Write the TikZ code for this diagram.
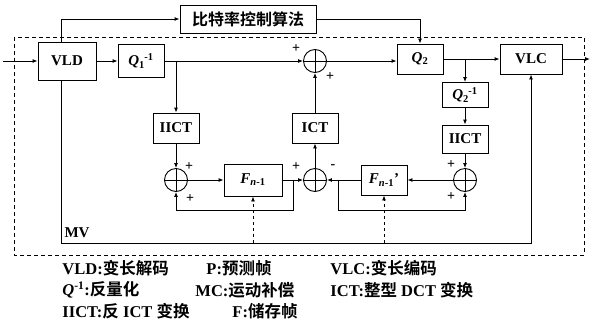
\documentclass[tikz,border=0pt]{standalone}
\usepackage{fontspec}
\setmainfont{Liberation Serif}
\newfontfamily\cjk[BoldFont={Noto Sans CJK SC Bold}]{Noto Sans CJK SC}
\usetikzlibrary{positioning,arrows.meta,calc}
\newcommand{\zhtext}[1]{{\cjk #1}}
\newcommand{\qname}[2]{\textit{Q}\textsubscript{#1}\kern-0.5pt\textsuperscript{#2}}
\newcommand{\fname}{\textit{F}\textsubscript{\textit{n}-1}}

\begin{document}
\begin{tikzpicture}[x=1pt, y=-1pt,
    font=\bfseries\fontsize{15}{17}\selectfont,
    line width=0.9pt,
    >={Latex[length=5pt,width=4pt]},
    box/.style={draw, minimum height=30pt, minimum width=46pt, inner sep=2pt, align=center},
    sum/.style={draw, circle, minimum size=23pt, inner sep=0pt,
      path picture={\draw (path picture bounding box.north) -- (path picture bounding box.south)
                          (path picture bounding box.west) -- (path picture bounding box.east);}},
    sign/.style={inner sep=0pt, font=\bfseries\fontsize{14}{14}\selectfont},
    legend/.style={anchor=west, inner sep=0pt, font=\bfseries\fontsize{16.5}{18}\selectfont},
  ]
  \useasboundingbox (0,0) rectangle (593,327);

  % top row
  \node[box, minimum width=58pt, minimum height=38pt] (vld) at (67,61) {VLD};
  \node[box, minimum height=33pt] (q1) at (141,61) {\qname{1}{-1}};
  \node[sum] (s1) at (315,61) {};
  \node[box] (q2) at (420,59) {\textit{Q}\textsubscript{2}};
  \node[box, minimum width=62pt] (vlc) at (531,59) {VLC};
  \node[box, minimum width=136pt, minimum height=28pt,
        font=\bfseries\fontsize{16}{18}\selectfont] (rate) at (248,19) {\zhtext{比特率控制算法}};

  % middle
  \node[box] (iict1) at (176,128) {IICT};
  \node[box] (ict) at (315,128) {ICT};
  \node[box, minimum height=25pt] (q2inv) at (465,95) {\qname{2}{-1}};
  \node[box, minimum height=28pt] (iict2) at (465,139) {IICT};

  % bottom row
  \node[sum] (s2) at (176,180) {};
  \node[sum] (s3) at (315,180) {};
  \node[sum] (s4) at (465,180) {};
  \node[box, minimum width=58pt, minimum height=32pt] (fn) at (253,180) {\fname};
  \node[box, minimum height=30pt] (fnp) at (384,180) {\fname'};

  \coordinate (in) at (3,61);
  \coordinate (out) at (590,59);
  \coordinate (j1) at (293,180);
  \coordinate (j2) at (338,180);
  \coordinate (mv) at (61,243);

  \draw[->] (in) -- (vld);
  \draw[->] (vld) -- (q1);
  \draw[->] (q1) -- (s1);
  \draw[->] (iict1 |- q1) -- (iict1);
  \draw[->] (iict1) -- (s2);
  \draw[->] (s2) -- (fn);
  \draw[->] (fn) -- (s3);
  \draw[->] (j1) -- ++(0,30) -| (s2);
  \draw[->] (s3) -- (ict);
  \draw[->] (ict) -- (s1);
  \draw[->] (s1.east) -- (s1.east -| q2.west);
  \draw[->] (q2) -- (vlc);
  \draw[->] (q2inv |- q2) -- (q2inv);
  \draw[->] (q2inv) -- (iict2);
  \draw[->] (iict2) -- (s4);
  \draw[->] (s4) -- (fnp);
  \draw[->] (fnp) -- (s3);
  \draw[->] (j2) -- ++(0,30) -| (s4);
  \draw[->] (vlc) -- (out);
  \draw[->] ([xshift=-6pt]vld.north) |- (rate);
  \draw[->] (rate) -| (q2);
  \draw[->] ([xshift=-6pt]vld.south) |- (mv -| vlc) -- (vlc);
  \draw[->, dashed] (fn |- mv) -- (fn);
  \draw[->, dashed] (fnp |- mv) -- (fnp);

  \draw[dashed, dash pattern=on 4pt off 3pt] (14,37) rectangle (584,255);
  \node[inner sep=0pt] (mvlabel) at (77,233) {MV};

  % signs
  \node[sign] at (296,49) {+};
  \node[sign] at (330,77) {+};
  \node[sign] at (189,167) {+};
  \node[sign] at (190,199) {+};
  \node[sign] at (296,167) {+};
  \node[sign] at (333,167) {-};
  \node[sign] at (451,165) {+};
  \node[sign] at (451,197) {+};

  % legend
  \node[legend] (l1) at (62,268) {VLD:\zhtext{变长解码}};
  \node[legend] (l2) at (206,268) {P:\zhtext{预测帧}};
  \node[legend] (l3) at (330,268) {VLC:\zhtext{变长编码}};
  \node[legend] (l4) at (62,290) {\textit{Q}\textsuperscript{-1}:\zhtext{反量化}};
  \node[legend] (l5) at (195,290) {MC:\zhtext{运动补偿}};
  \node[legend] (l6) at (330,290) {ICT:\zhtext{整型} DCT \zhtext{变换}};
  \node[legend] (l7) at (62,311) {IICT:\zhtext{反} ICT \zhtext{变换}};
  \node[legend] (l8) at (232,311) {F:\zhtext{储存帧}};
\end{tikzpicture}
\end{document}
